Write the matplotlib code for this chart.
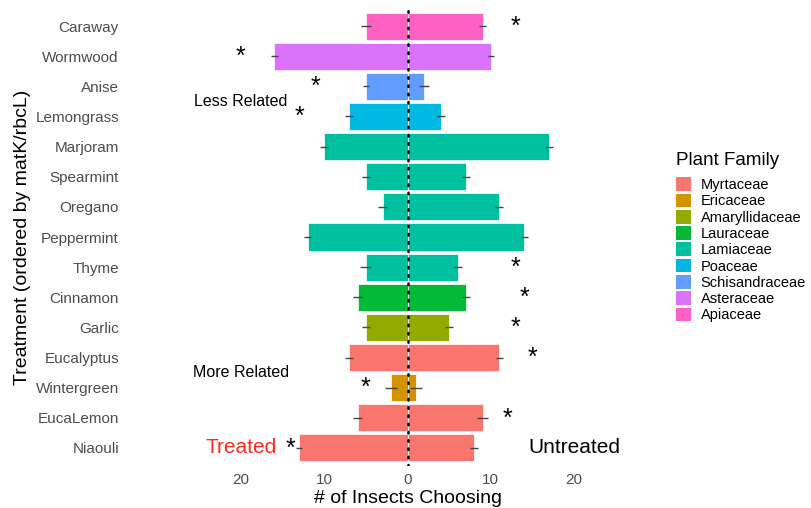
import numpy as np
import matplotlib
matplotlib.use("Agg")
import matplotlib.pyplot as plt
from matplotlib.patches import Patch

plt.rcParams['font.family'] = ['Liberation Sans', 'DejaVu Sans']

# data (Caraway at top, Niaouli at bottom)
treatments = ["Caraway", "Wormwood", "Anise", "Lemongrass", "Marjoram", "Spearmint",
              "Oregano", "Peppermint", "Thyme", "Cinnamon", "Garlic", "Eucalyptus",
              "Wintergreen", "EucaLemon", "Niaouli"]
plant_family = ["Apiaceae", "Asteraceae", "Schisandraceae", "Poaceae", "Lamiaceae", "Lamiaceae",
                "Lamiaceae", "Lamiaceae", "Lamiaceae", "Lauraceae", "Amaryllidaceae", "Myrtaceae",
                "Ericaceae", "Myrtaceae", "Myrtaceae"]
treated = [5, 16, 5, 7, 10, 5, 3, 12, 5, 6, 5, 7, 2, 6, 13]
untreated = [9, 10, 2, 4, 17, 7, 11, 14, 6, 7, 5, 11, 1, 9, 8]
treated_se = [0.6, 0.4, 0.4, 0.45, 0.45, 0.5, 0.55, 0.4, 0.65, 0.55, 0.5, 0.5, 0.7, 0.5, 0.35]
untreated_se = [0.4, 0.4, 0.6, 0.45, 0.5, 0.5, 0.45, 0.4, 0.5, 0.5, 0.5, 0.4, 0.75, 0.65, 0.45]

# significance stars
star_treatment = ["Caraway", "Wormwood", "Anise", "Lemongrass", "Thyme", "Cinnamon",
                  "Garlic", "Eucalyptus", "Wintergreen", "EucaLemon", "Niaouli"]
star_x = [13, -20, -11, -13, 13, 14, 13, 15, -5, 12, -14]

families = ["Myrtaceae", "Ericaceae", "Amaryllidaceae", "Lauraceae", "Lamiaceae",
            "Poaceae", "Schisandraceae", "Asteraceae", "Apiaceae"]
family_colors = ["#F8766D", "#D39200", "#93AA00", "#00BA38", "#00C19F",
                 "#00B9E3", "#619CFF", "#DB72FB", "#FF61C3"]

xticks = [-20, -10, 0, 10, 20]

pal = dict(zip(families, family_colors))
cols = [pal[f] for f in plant_family]
y = np.arange(len(treatments))
tr = np.array(treated)
un = np.array(untreated)

fig = plt.figure(figsize=(8.11, 5.08), dpi=100)
ax = fig.add_axes([180/811, 1-466/508, 455/811, 458/508])

ax.barh(y, -tr, height=0.9, color=cols, edgecolor='white', linewidth=0.5)
ax.barh(y, un, height=0.9, color=cols, edgecolor='white', linewidth=0.5)
ax.errorbar(-tr, y, xerr=treated_se, fmt='none', ecolor='#444444', elinewidth=1, capsize=0)
ax.errorbar(un, y, xerr=untreated_se, fmt='none', ecolor='#444444', elinewidth=1, capsize=0)
ax.axvline(0, color='black', linestyle=(0, (0.6, 2.7)), linewidth=1.8,
           dash_capstyle='round')

for t, sx in zip(star_treatment, star_x):
    ax.text(sx, treatments.index(t) + 0.02, "*", fontsize=18, ha='center', va='center')

ax.text(-20, 2.5, "Less Related", fontsize=11.5, ha='center', va='center')
ax.text(-20, 11.5, "More Related", fontsize=11.5, ha='center', va='center')
ax.text(-20, 14, "Treated", fontsize=15, color='#FF2A1A', ha='center', va='center')
ax.text(20, 14, "Untreated", fontsize=15, color='black', ha='center', va='center')

ax.set_xlim(-27.3, 27.3)
ax.set_ylim(len(treatments) - 0.4, -0.6)
ax.set_xticks(xticks)
ax.set_xticklabels([str(abs(v)) for v in xticks])
ax.set_yticks(y)
ax.set_yticklabels(treatments)
ax.tick_params(axis='both', length=0, labelsize=11, labelcolor='#4D4D4D')
ax.tick_params(axis='y', pad=44)
ax.tick_params(axis='x', pad=5)
for s in ax.spines.values():
    s.set_visible(False)

ax.set_xlabel("# of Insects Choosing", fontsize=14, labelpad=2)
ax.set_ylabel("Treatment (ordered by matK/rbcL)", fontsize=14, labelpad=3)

handles = [Patch(facecolor=c, edgecolor='none') for c in family_colors]
leg = fig.legend(handles, families, loc='upper left', bbox_to_anchor=(676/811, 1-152/508),
                 frameon=False, fontsize=10.5, title="Plant Family", title_fontsize=13.5,
                 alignment='left', borderpad=0, borderaxespad=0, handlelength=1.03,
                 handleheight=1.07, labelspacing=0.1, handletextpad=0.65)
leg._legend_box.sep = 6

fig.savefig("out.png", dpi=100)
